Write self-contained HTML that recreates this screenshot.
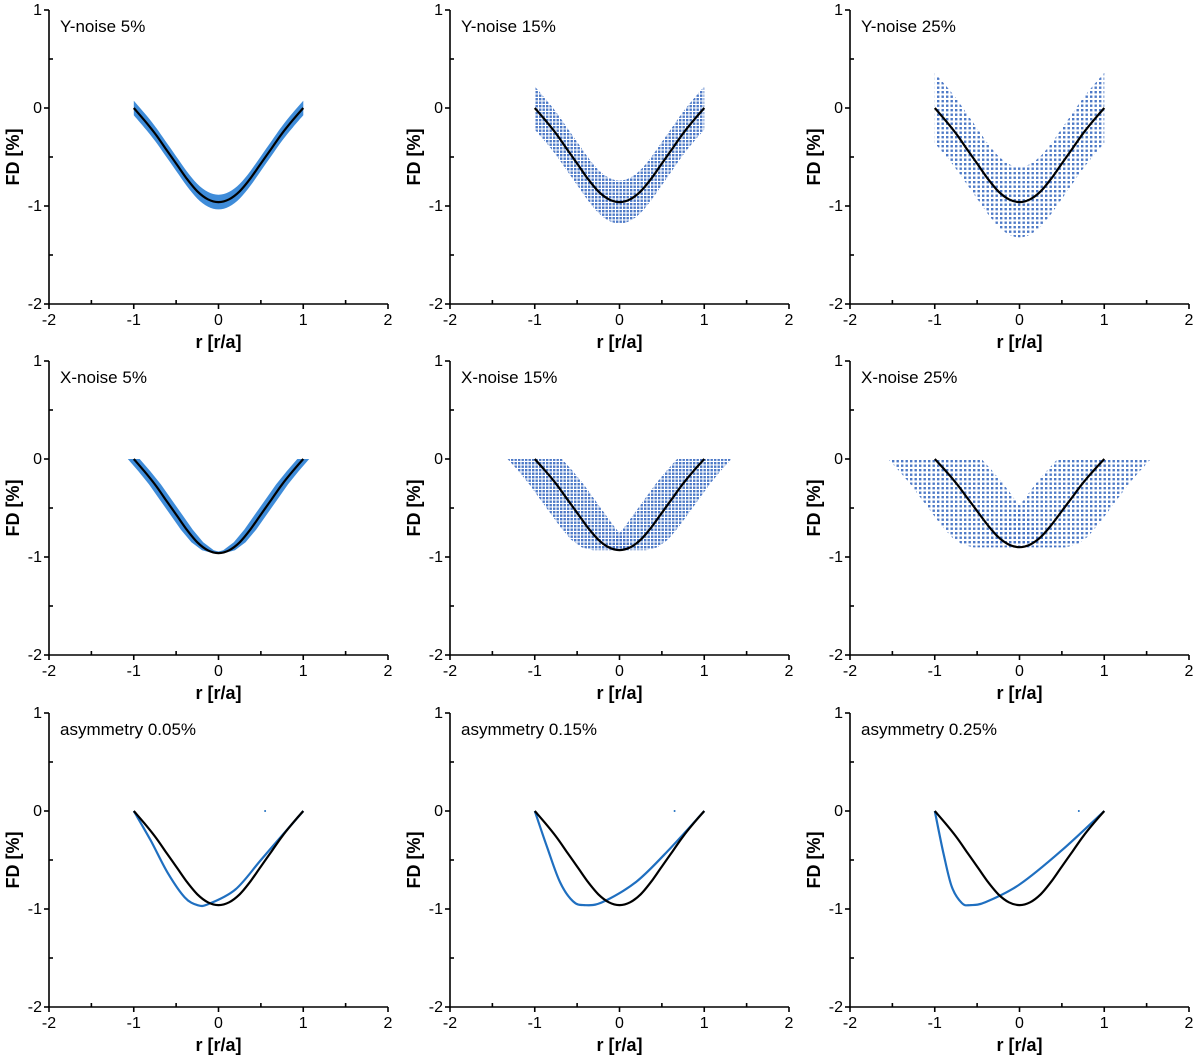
<!DOCTYPE html>
<html><head><meta charset="utf-8"><style>
html,body{margin:0;padding:0;background:#fff;}
svg{display:block;font-family:"Liberation Sans",Arial,sans-serif;}
</style></head><body>
<svg id="chart" width="1200" height="1062" viewBox="0 0 1200 1062">
<defs>
<pattern id="dotsB" width="3.5" height="3.5" patternUnits="userSpaceOnUse"><rect x="0" y="0" width="2.4" height="2.4" fill="#4472c4"/></pattern>
<pattern id="dotsC" width="4.5" height="4.5" patternUnits="userSpaceOnUse"><rect x="1" y="1" width="2.4" height="2.4" fill="#4472c4"/></pattern>
</defs>
</svg>
<script>
// ---- data ----
const modelX = [-1,-0.875,-0.75,-0.625,-0.5,-0.375,-0.25,-0.125,0,0.125,0.25,0.375,0.5,0.625,0.75,0.875,1];
const modelShape = [0,-0.13,-0.27,-0.43,-0.59,-0.75,-0.885,-0.97,-1,-0.97,-0.885,-0.75,-0.59,-0.43,-0.27,-0.13,0];
const modelDepth = [[0.96,0.96,0.96],[0.96,0.93,0.9],[0.96,0.96,0.96]];
const titles = [["Y-noise 5%","Y-noise 15%","Y-noise 25%"],["X-noise 5%","X-noise 15%","X-noise 25%"],["asymmetry 0.05%","asymmetry 0.15%","asymmetry 0.25%"]];
const yNoise = [0.075,0.22,0.36];
const xNoise = [0.07,0.32,0.55];
const asymX = [[-1,-0.8,-0.6,-0.4,-0.25,-0.12,0.2,0.5,0.8,1],[-1,-0.85,-0.7,-0.55,-0.42,-0.2,0.2,0.6,1],[-1,-0.9,-0.8,-0.68,-0.58,-0.4,0,0.5,1]];
const asymY = [[0,-0.3,-0.63,-0.88,-0.96,-0.95,-0.8,-0.5,-0.2,0],[0,-0.38,-0.73,-0.92,-0.96,-0.93,-0.72,-0.38,0],[0,-0.42,-0.77,-0.94,-0.96,-0.93,-0.75,-0.4,0]];
const asymDotX = [0.55,0.65,0.7];
const xTicks = [-2,-1,0,1,2];
const yTicks = [1,0,-1,-2];
// ---- layout ----
const colL = [49,450,850], W = 339;
const rowT = [10,361,713], H = 294;
const svg = document.getElementById('chart');
const NS = 'http://www.w3.org/2000/svg';
function mk(tag, at, parent){const e=document.createElementNS(NS,tag);for(const k in at)e.setAttribute(k,at[k]);(parent||svg).appendChild(e);return e;}
function spline(pts){
  let d='M'+pts[0][0].toFixed(1)+','+pts[0][1].toFixed(1);
  for(let i=0;i<pts.length-1;i++){
    const p0=pts[Math.max(0,i-1)],p1=pts[i],p2=pts[i+1],p3=pts[Math.min(pts.length-1,i+2)];
    const c1=[p1[0]+(p2[0]-p0[0])/6,p1[1]+(p2[1]-p0[1])/6],c2=[p2[0]-(p3[0]-p1[0])/6,p2[1]-(p3[1]-p1[1])/6];
    d+=' C'+c1[0].toFixed(1)+','+c1[1].toFixed(1)+' '+c2[0].toFixed(1)+','+c2[1].toFixed(1)+' '+p2[0].toFixed(1)+','+p2[1].toFixed(1);
  }
  return d;
}
for(let r=0;r<3;r++)for(let c=0;c<3;c++){
  const L=colL[c],T=rowT[r];
  const sx=v=>L+(v+2)/4*W, sy=v=>T+(1-v)/3*H;
  const g=mk('g',{});
  
  
  const depth=modelDepth[r][c];
  const model=modelX.map((x,i)=>[x,modelShape[i]*depth]);
  const fillStyle=['#1d78d2','url(#dotsB)','url(#dotsC)'][c];
  const op=[0.85,0.95,0.95][c];
  if(r===0){
    const up=model.map(p=>[sx(p[0]),sy(p[1]+yNoise[c])]);
    const lo=model.map(p=>[sx(p[0]),sy(p[1]-yNoise[c])]).reverse();
    const band=mk('path',{d:spline(up)+' L'+lo[0][0].toFixed(1)+','+lo[0][1].toFixed(1)+' '+spline(lo).slice(1).replace(/^[^C]*/,'')+' Z',fill:fillStyle,opacity:op},g);
    
    
  } else if(r===1){
    const s=xNoise[c];
    [[0,9],[8,17]].forEach(([a,b])=>{
      const seg=model.slice(a,b);
      const left=seg.map(p=>[sx(p[0]-s),sy(p[1])]);
      const right=seg.map(p=>[sx(p[0]+s),sy(p[1])]).reverse();
      const band=mk('path',{d:'M'+left.concat(right).map(p=>p[0].toFixed(1)+','+p[1].toFixed(1)).join(' L')+' Z',fill:fillStyle,opacity:op},g);
      
      
    });
  } else {
    const pts=asymX[c].map((x,i)=>[sx(x),sy(asymY[c][i])]);
    const ap=mk('path',{d:spline(pts),fill:'none',stroke:'#1f6fc0','stroke-width':2.2},g);
    
    
    const dt=mk('circle',{cx:sx(asymDotX[c]),cy:sy(0),r:1,fill:'#1f6fc0'},g);
    
    
  }
  const mp=mk('path',{d:spline(model.map(p=>[sx(p[0]),sy(p[1])])),fill:'none',stroke:'#000','stroke-width':2.2},g);
  
  
  const ax=mk('g',{stroke:'#000','stroke-width':1.6},g);
  
  
  mk('line',{x1:L,y1:T,x2:L,y2:T+H},ax);
  mk('line',{x1:L,y1:T+H,x2:L+W,y2:T+H},ax);
  for(let v=-2;v<=2.001;v+=0.5){const x=sx(v);if(Number.isInteger(v))mk('line',{x1:x,y1:T+H,x2:x,y2:T+H+5},ax);else mk('line',{x1:x,y1:T+H,x2:x,y2:T+H-4},ax);}
  for(let v=-2;v<=1.001;v+=0.5){const y=sy(v);if(Number.isInteger(v))mk('line',{x1:L-5,y1:y,x2:L,y2:y},ax);else mk('line',{x1:L,y1:y,x2:L+4,y2:y},ax);}
  xTicks.forEach(v=>{const t=mk('text',{x:sx(v),y:T+H+21,'text-anchor':'middle','font-size':16},g);t.textContent=String(v);});
  yTicks.forEach(v=>{const t=mk('text',{x:L-7,y:sy(v)+5,'text-anchor':'end','font-size':16},g);t.textContent=String(v);});
  const xt=mk('text',{x:sx(0),y:T+H+44,'text-anchor':'middle','font-size':18,'font-weight':'bold'},g);xt.textContent='r [r/a]';
  
  
  const yy=sy(-0.5);
  const yt=mk('text',{x:L-30,y:yy,'text-anchor':'middle','font-size':18,'font-weight':'bold',transform:'rotate(-90 '+(L-30)+' '+yy+')'},g);yt.textContent='FD [%]';
  
  
  const tt=mk('text',{x:L+11,y:T+22,'font-size':17},g);tt.textContent=titles[r][c];
  
  
}
</script>
</body></html>
